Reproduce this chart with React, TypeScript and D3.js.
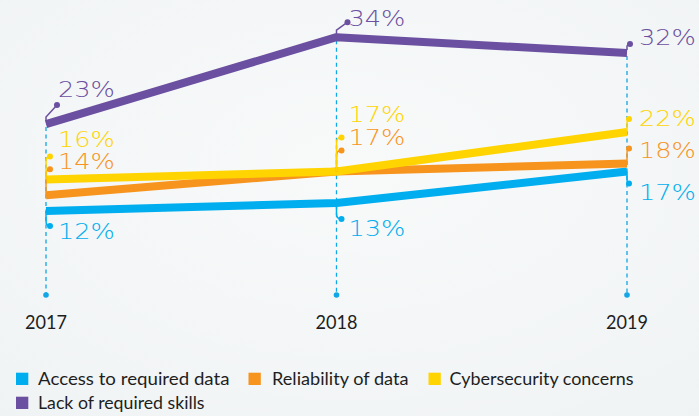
import React from "react";
import * as d3 from "d3";

const years = ["2017", "2018", "2019"];
const seriesNames = ["Access to required data", "Reliability of data", "Cybersecurity concerns", "Lack of required skills"];
const accessValues = [12, 13, 17];
const reliabilityValues = [14, 17, 18];
const cyberValues = [16, 17, 22];
const skillsValues = [23, 34, 32];
const colors = ["#00aeef", "#f7941d", "#ffd400", "#6b4fa0"];

// label layout (pixel offsets relative to each point): text center dy, dot dx, dot dy
const labelTextDy = [
  [20, 25, 20.5],
  [-34, -34.5, -13.6],
  [-40, -57.5, -14],
  [-35, -19, -16],
];
const dotDx = [
  [4, 5, 2],
  [4, 5, 2],
  [4, 5, 2],
  [11, 11, 3],
];
const dotDy = [
  [15, 16, 12],
  [-26, -21, -15],
  [-23, -34, -13],
  [-19, -15, -9],
];

const W = 699;
const H = 416;
const FONT = "Lato, 'Open Sans', sans-serif";

export default function App() {
  const allValues = [accessValues, reliabilityValues, cyberValues, skillsValues];
  const x = d3.scalePoint<string>().domain(years).range([46, 627]);
  const y = d3.scaleLinear().domain([0, 40]).range([305.8, -10.2]);
  const line = d3
    .line<number>()
    .x((_, i) => x(years[i]) as number)
    .y((d) => y(d));

  const legendRows = [
    [
      { i: 0, sx: 16, tx: 38, tw: 191.5 },
      { i: 1, sx: 248.5, tx: 272, tw: 136.5 },
      { i: 2, sx: 428.5, tx: 449.5, tw: 184 },
    ],
    [{ i: 3, sx: 16, tx: 38, tw: 166.5 }],
  ];
  const legendBase = [385, 409];

  return (
    <svg
      width={W}
      height={H}
      style={{ position: "absolute", left: 0, top: 0 }}
      viewBox={`0 0 ${W} ${H}`}
    >
      <defs>
        <radialGradient id="bg" cx="0.5" cy="0.4" r="0.8">
          <stop offset="0" stopColor="#f8fafa" />
          <stop offset="1" stopColor="#f0f3f4" />
        </radialGradient>
      </defs>
      <rect x={0} y={0} width={W} height={H} fill="url(#bg)" />

      {/* vertical dashed guides */}
      {years.map((yr, j) => {
        const top = y(d3.max(allValues, (s) => s[j]) as number) + 3;
        return (
          <g key={yr}>
            <line
              x1={x(yr)}
              x2={x(yr)}
              y1={top}
              y2={295}
              stroke="#12a6e6"
              strokeWidth={1.3}
              strokeDasharray="4,3.5"
            />
            <circle cx={x(yr)} cy={295} r={2.8} fill="#12a6e6" />
          </g>
        );
      })}

      {/* series lines */}
      {allValues.map((vals, si) => (
        <path
          key={si}
          d={line(vals) as string}
          fill="none"
          stroke={colors[si]}
          strokeWidth={8}
          strokeLinejoin="round"
        />
      ))}

      {/* leaders + labels */}
      {allValues.map((vals, si) =>
        vals.map((v, j) => {
          const px = x(years[j]) as number;
          const py = y(v);
          const dx = px + dotDx[si][j];
          const dy = py + dotDy[si][j];
          const s = dotDy[si][j] > 0 ? -1 : 1;
          const path =
            si === 3
              ? `M${px},${py - 3} L${px},${py - 7} L${dx},${dy}`
              : `M${px},${py} L${px},${dy + s * 5} Q${px},${dy} ${dx},${dy}`;
          return (
            <g key={`${si}-${j}`}>
              <path d={path} fill="none" stroke={colors[si]} strokeWidth={1.5} />
              <circle cx={dx} cy={dy} r={3} fill={colors[si]} />
              <text
                x={px + 12}
                y={py + labelTextDy[si][j]}
                dy="0.36em"
                fill={colors[si]}
                fontFamily="'DejaVu Sans', sans-serif"
                fontWeight={200}
                fontSize={21}
                textLength={57}
                lengthAdjust="spacingAndGlyphs"
              >
                {v}%
              </text>
            </g>
          );
        })
      )}

      {/* year labels */}
      {years.map((yr) => (
        <text
          key={yr}
          x={(x(yr) as number) - 21}
          y={329}
          fill="#1e1e1e"
          fontFamily={FONT}
          fontWeight={400}
          fontSize={19.5}
          textLength={42}
          lengthAdjust="spacingAndGlyphs"
        >
          {yr}
        </text>
      ))}

      {/* legend */}
      {legendRows.map((row, ri) =>
        row.map((item) => (
          <g key={item.i}>
            <rect
              x={item.sx}
              y={legendBase[ri] - 12.3}
              width={12.3}
              height={12.3}
              fill={colors[item.i]}
            />
            <text
              x={item.tx}
              y={legendBase[ri]}
              fill="#1e1e1e"
              fontFamily={FONT}
              fontWeight={400}
              fontSize={17}
              textLength={item.tw}
              lengthAdjust="spacingAndGlyphs"
            >
              {seriesNames[item.i]}
            </text>
          </g>
        ))
      )}
    </svg>
  );
}
